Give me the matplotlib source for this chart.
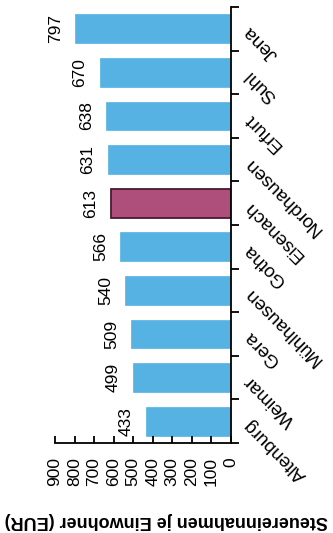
import matplotlib
matplotlib.use("Agg")
import matplotlib.pyplot as plt
from matplotlib.transforms import offset_copy, blended_transform_factory

# Steuereinnahmen je Einwohner, Thueringer Staedte (von unten nach oben)
staedte = ["Altenburg", "Weimar", "Gera", "Mühlhausen", "Gotha",
           "Eisenach", "Nordhausen", "Erfurt", "Suhl", "Jena"]
werte = [433, 499, 509, 540, 566, 613, 631, 638, 670, 797]
hervorgehoben = "Eisenach"
skala = [0, 100, 200, 300, 400, 500, 600, 700, 800, 900]

plt.rcParams["font.family"] = ["Liberation Sans", "DejaVu Sans"]

blau = "#55b2e2"
rot = "#ad4f7a"

fig = plt.figure(figsize=(3.33, 5.33), dpi=100)
ax = fig.add_axes([55 / 333, 90 / 533, 176 / 333, 436 / 533])

farben = [rot if s == hervorgehoben else blau for s in staedte]
kanten = ["#4a1a30" if s == hervorgehoben else blau for s in staedte]
breiten = [1.3 if s == hervorgehoben else 0.5 for s in staedte]
pos = list(range(len(staedte)))
ax.barh(pos, werte, height=0.66, color=farben, edgecolor=kanten, linewidth=breiten)

ax.set_xlim(900, 0)
ax.set_ylim(-0.5, len(staedte) - 0.5)

ax.spines["top"].set_visible(False)
ax.spines["left"].set_visible(False)
ax.spines["bottom"].set_linewidth(1.3)
ax.spines["right"].set_linewidth(1.3)

ax.set_xticks(skala)
ax.set_xticklabels([str(v) for v in skala], rotation=90, fontsize=12.5)
ax.tick_params(axis="x", direction="in", length=5, width=1.3, pad=10)

ax.yaxis.tick_right()
ax.set_yticks([p - 0.5 for p in pos] + [len(staedte) - 0.5])
ax.set_yticklabels([])
ax.tick_params(axis="y", direction="out", length=6, width=1.3)

# Werte an den Balken
for p, w in zip(pos, werte):
    ax.annotate(str(w), xy=(w, p), xytext=(-9, 0), textcoords="offset points",
                rotation=90, ha="right", va="center", fontsize=12.5)

# Staedtenamen schraeg, kopfueber
trans = offset_copy(blended_transform_factory(ax.transAxes, ax.transData),
                    fig=fig, x=16, y=0, units="dots")
for p, s in zip(pos, staedte):
    ax.text(1, p, s, transform=trans, rotation=135, rotation_mode="anchor",
            ha="right", va="center", fontsize=13.5)

fig.text(0.5, 12 / 533, "Steuereinnahmen je Einwohner (EUR)", rotation=180,
         ha="center", va="center", fontsize=13, fontweight="bold")

fig.savefig("out.png", dpi=100)
